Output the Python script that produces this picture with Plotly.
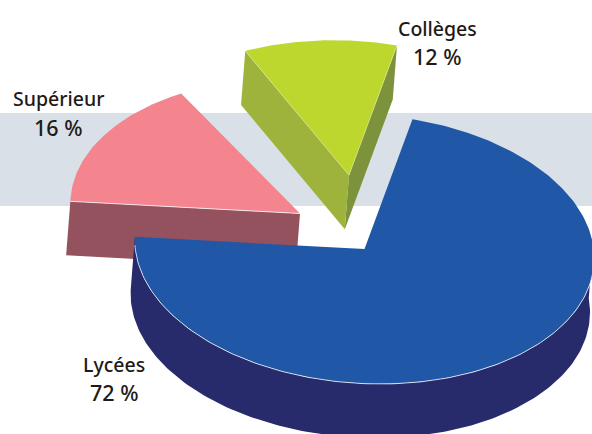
import numpy as np
import plotly.graph_objects as go

# --- data ---
categories = ["Lycées", "Supérieur", "Collèges"]
shares = [72, 16, 12]
share_labels = ["72 %", "16 %", "12 %"]

# --- styling / layout ---
W, H = 592, 434
START_DEG = 10.0
TILT = np.radians(3.5)
A, B = 230.0, 134.5
DEPTH = (-4.2, 54.0)
apexes = [(364.5, 249.0), (300.0, 213.5), (349.0, 175.2)]
start_trim = [0.0, 0.0, 4.3]
top_colors = ["#2057a7", "#f4858e", "#bed72f"]
wall_colors = ["#272a6b", "#93525d", "#9eb33b"]
side_color = "#7c933b"
band_color = "#dae0e7"
text_color = "#1f1a17"
label_pos = [((114, 364), (114, 392)), ((58, 98), (58, 127)), ((437, 28), (437, 56))]
FONT = "Noto Sans"


def ell(apex, t_deg):
    t = np.radians(np.asarray(t_deg, dtype=float))
    lx = A * np.sin(t)
    ly = -B * np.cos(t)
    return (apex[0] + lx * np.cos(TILT) - ly * np.sin(TILT),
            apex[1] + lx * np.sin(TILT) + ly * np.cos(TILT))


def poly(fig, xs, ys, color):
    fig.add_trace(go.Scatter(x=list(xs) + [xs[0]], y=list(ys) + [ys[0]], mode="lines",
                             fill="toself", fillcolor=color, line=dict(width=0, color=color),
                             hoverinfo="skip", showlegend=False))


def rim(fig, xs, ys, color="rgba(255,255,255,0.85)", w=0.9):
    fig.add_trace(go.Scatter(x=list(xs), y=list(ys), mode="lines", line=dict(width=w, color=color),
                             hoverinfo="skip", showlegend=False))


# angular span of each slice, from the shares
sweeps = np.array(shares) / sum(shares) * 360
ends = START_DEG + np.cumsum(sweeps)
starts = ends - sweeps
spans = [(s + trim, e) for s, e, trim in zip(starts, ends, start_trim)]

fig = go.Figure()

# Supérieur
i = 1
ap = apexes[i]
tx, ty = ell(ap, spans[i])
poly(fig, [tx[0], ap[0], ap[0] + DEPTH[0], tx[0] + DEPTH[0]],
     [ty[0], ap[1], ap[1] + DEPTH[1], ty[0] + DEPTH[1]], wall_colors[i])
ax, ay = ell(ap, np.linspace(*spans[i], 60))
poly(fig, [ap[0], *ax], [ap[1], *ay], top_colors[i])
rim(fig, [tx[0], ap[0]], [ty[0], ap[1]])

# Collèges
i = 2
ap = apexes[i]
tx, ty = ell(ap, spans[i])
poly(fig, [tx[1], ap[0], ap[0] + DEPTH[0], tx[1] + DEPTH[0]],
     [ty[1], ap[1], ap[1] + DEPTH[1], ty[1] + DEPTH[1]], side_color)
poly(fig, [tx[0], ap[0], ap[0] + DEPTH[0], tx[0] + DEPTH[0]],
     [ty[0], ap[1], ap[1] + DEPTH[1], ty[0] + DEPTH[1]], wall_colors[i])
ax, ay = ell(ap, np.linspace(*spans[i], 60))
poly(fig, [ap[0], *ax], [ap[1], *ay], top_colors[i])
rim(fig, [tx[0], ap[0], tx[1]], [ty[0], ap[1], ty[1]], "rgba(230,240,170,0.7)", 0.7)

# Lycées
i = 0
ap = apexes[i]
wx, wy = ell(ap, np.linspace(82, spans[i][1], 160))
poly(fig, [*wx, *(wx + DEPTH[0])[::-1]], [*wy, *(wy + DEPTH[1])[::-1]], wall_colors[i])
ax, ay = ell(ap, np.linspace(*spans[i], 240))
poly(fig, [ap[0], *ax], [ap[1], *ay], top_colors[i])
rim(fig, wx[:-3], wy[:-3])

annotations = []
for name, pct, (p1, p2) in zip(categories, share_labels, label_pos):
    for txt, p, size in ((name, p1, 19.5), (pct, p2, 21.5)):
        annotations.append(dict(x=p[0], y=p[1], xref="x", yref="y", text=txt, showarrow=False,
                                xanchor="center", yanchor="middle",
                                font=dict(family=FONT, size=size, weight=500, color=text_color)))

fig.update_layout(
    width=W, height=H, autosize=False,
    margin=dict(l=0, r=0, t=0, b=0),
    paper_bgcolor="white", plot_bgcolor="white", showlegend=False,
    xaxis=dict(range=[0, W], visible=False, fixedrange=True),
    yaxis=dict(range=[H, 0], visible=False, fixedrange=True),
    shapes=[dict(type="rect", xref="x", yref="y", x0=0, x1=W, y0=113, y1=206,
                 fillcolor=band_color, line_width=0, layer="below")],
    annotations=annotations,
)
fig.write_html("out.html", config=dict(displayModeBar=False),
               post_script="document.body.style.margin='0';document.body.style.overflow='hidden';")
